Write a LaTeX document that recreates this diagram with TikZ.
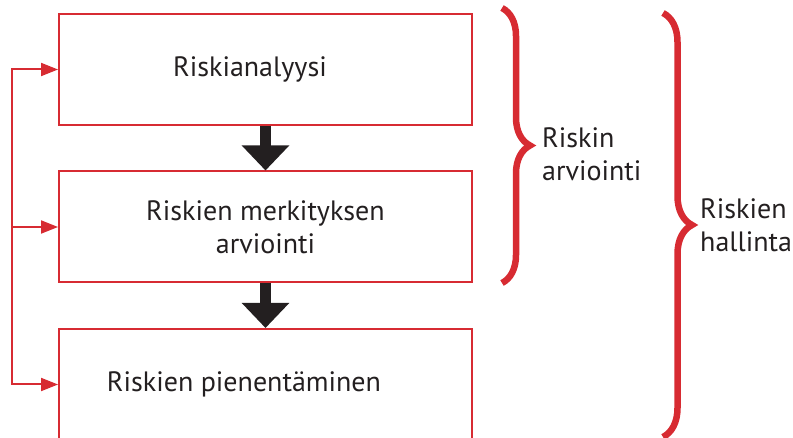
\documentclass[tikz,border=0pt]{standalone}
\usepackage{fontspec}
\setmainfont{PT Sans}
\usetikzlibrary{arrows.meta,decorations.pathreplacing}

\definecolor{punainen}{RGB}{215,43,50}
\definecolor{musta}{RGB}{35,31,32}

\tikzset{
  laatikko/.style={draw=punainen,line width=2pt,minimum width=413pt,minimum height=111pt,
    inner sep=0pt,align=center,text=musta},
  nuoli/.style={-{Triangle[width=46pt,length=25pt]},line width=11pt,draw=musta},
  palaute/.style={draw=punainen,line width=2pt,-{Triangle[width=13pt,length=17pt]}},
  sulku/.style={draw=punainen,line width=6.5pt,decorate,decoration={brace,amplitude=#1}},
  selite/.style={anchor=west,align=left,text=musta,inner sep=0pt}
}

\begin{document}
\begin{tikzpicture}[x=1pt,y=-1pt,font=\fontsize{28}{33}\selectfont]
\useasboundingbox (0,0) rectangle (793,438);
\clip (0,0) rectangle (793,438);

\node[laatikko] (analyysi) at (265.5,69.5) {\hspace*{-31pt}Riskianalyysi};
\node[laatikko] (merkitys) at (265.5,227) {Riskien merkityksen\\arviointi};
\node[laatikko] (pienennys) at (265.5,384.5) {\hspace*{-43pt}Riskien pienentäminen};

\draw[nuoli] (analyysi.south) -- (merkitys.north);
\draw[nuoli] (merkitys.south) -- (pienennys.north);

% paluunuolet vasemmalla
\coordinate (runko) at (12,0);
\draw[palaute] (pienennys.west -| runko) -- (analyysi.west -| runko) -- (analyysi.west);
\draw[palaute] (analyysi.west -| runko) -- (pienennys.west -| runko) -- (pienennys.west);
\draw[palaute] (merkitys.west -| runko) -- (merkitys.west);

% aaltosulkeet
\draw[sulku=28pt] (502,8) -- (502,283);
\draw[sulku=29pt] (663,13) -- (663,437);
\node[selite] (arviointi) at (542,154) {Riskin\\arviointi};
\node[selite] (hallinta) at (700,225) {Riskien\\hallinta};
\end{tikzpicture}
\end{document}
